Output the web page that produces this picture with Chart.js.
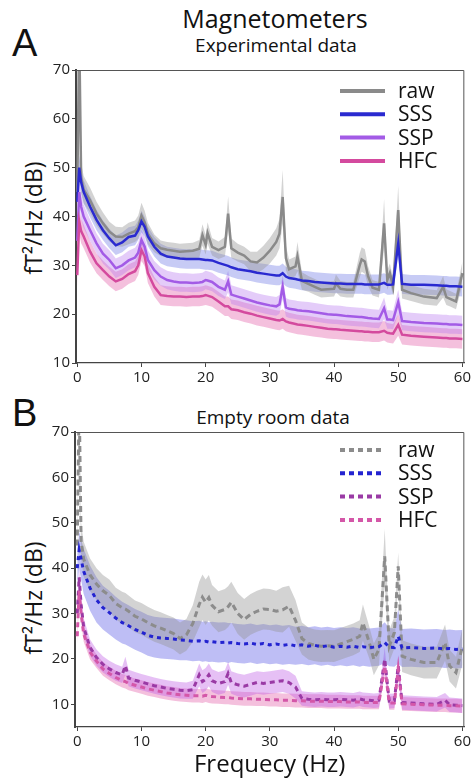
<!DOCTYPE html>
<html>
<head>
<meta charset="utf-8">
<script src="https://cdn.jsdelivr.net/npm/chart.js@4.4.1/dist/chart.umd.min.js"></script>
<style>
  body { margin: 0; background: #fff; width: 473px; height: 780px; overflow: hidden; position: relative; font-family: "Open Sans", sans-serif; color: #111; }
  .t { position: absolute; white-space: nowrap; line-height: 1; transform: translate(-50%, -50%); }
  .yt { position: absolute; white-space: nowrap; line-height: 1; font-size: 23px; transform: translate(-50%, -50%) rotate(-90deg); }
  .lab { position: absolute; font-family: "Liberation Sans", Arial, sans-serif; line-height: 1; }
  canvas { position: absolute; left: 0; }
</style>
</head>
<body>
<div class="lab" style="left:12px;top:24px;font-size:38px">A</div>
<div class="t" style="left:275px;top:18px;font-size:25px">Magnetometers</div>
<div class="t" style="left:276px;top:45px;font-size:19px">Experimental data</div>
<div class="yt" style="left:33px;top:218px">fT²/Hz (dB)</div>
<canvas id="chartA" width="473" height="332" style="top:58px"></canvas>

<div class="lab" style="left:12px;top:394px;font-size:38px">B</div>
<div class="t" style="left:273px;top:417px;font-size:19px">Empty room data</div>
<div class="yt" style="left:33px;top:598px">fT²/Hz (dB)</div>
<canvas id="chartB" width="473" height="360" style="top:420px"></canvas>

<script>
const seriesNames = ['raw', 'SSS', 'SSP', 'HFC'];
const xTicks = [0, 10, 20, 30, 40, 50, 60];
const yTicks = [10, 20, 30, 40, 50, 60, 70];

// panel A - experimental data (mean and sd, dB)
const freqA = [0, 0.3, 0.6, 1, 2, 3, 4, 5, 6, 7,
  8, 9, 9.5, 10, 10.5, 11, 12, 13, 14, 15,
  16, 17, 18, 19, 19.5, 20, 20.3, 21, 22, 23,
  23.5, 24, 25, 26, 27, 28, 29, 30, 31, 31.5,
  32, 32.5, 33, 34, 34.3, 35, 36, 37, 38, 39,
  40, 40.3, 41, 42, 43, 44, 44.3, 44.8, 45.3, 46,
  47, 47.8, 48.3, 48.7, 49.2, 50, 50.6, 52, 54, 56,
  57, 57.5, 58, 59, 60];
const rawMeanA = [45, 78, 48, 45.5, 43.3, 40.6, 38.6, 36.9, 35.9, 35.8,
  36.5, 37, 37.8, 40.2, 38.8, 36.5, 34.5, 33.5, 33.2, 33,
  32.8, 32.9, 33, 33.4, 36.2, 34.2, 36.6, 33.8, 33.1, 33.8,
  40.6, 33.5, 32.6, 32, 30.8, 30.6, 31.6, 33, 34.8, 36.5,
  44, 31.5, 29.2, 29.8, 31.8, 26.8, 26.2, 25.6, 25, 25.1,
  25.2, 26.3, 25.2, 25, 25, 30, 31.2, 30.8, 27.8, 25.4,
  25, 38.6, 27, 28.4, 25.6, 41.3, 25, 24.3, 23.6, 23.3,
  25.6, 23.5, 23.2, 22.6, 28.4];
const rawSdA = [3, 3, 3, 2.8, 2.6, 2.4, 2.2, 2, 2, 2,
  2.2, 2.2, 2.4, 2.6, 2.4, 2.2, 1.8, 1.6, 1.6, 1.6,
  1.6, 1.6, 1.6, 1.8, 2.2, 2, 2.2, 1.8, 1.8, 2,
  3.5, 2, 1.8, 1.8, 2, 2.2, 2.4, 2.6, 2.8, 3,
  5.5, 2.5, 2, 2, 3, 1.8, 1.6, 1.6, 1.6, 1.6,
  1.6, 1.8, 1.6, 1.6, 1.6, 2.5, 2.5, 2.5, 2, 1.6,
  1.6, 5, 2, 2, 1.8, 5, 1.8, 1.6, 1.6, 1.6,
  2.2, 1.6, 1.6, 1.6, 2.4];
const sssMeanA = [43, 50, 47, 45, 42, 39.3, 37.2, 35.5, 34.1, 34.7,
  35.8, 36.1, 37.2, 39, 37.9, 35.9, 33.8, 32.4, 31.8, 31.6,
  31.4, 31.3, 31.3, 31.3, 31.2, 31.1, 31.1, 31, 30.5, 30.1,
  29.9, 29.6, 29.2, 29, 28.8, 28.5, 28.3, 28.1, 27.9, 27.9,
  28.4, 27.7, 27.4, 27.2, 27.1, 26.9, 26.8, 26.6, 26.5, 26.4,
  26.3, 26.3, 26.3, 26.2, 26.2, 26.2, 26.2, 26.1, 26.1, 26.1,
  26.1, 26.4, 26, 26, 26.1, 34.5, 26.2, 26, 26, 25.9,
  25.8, 25.8, 25.7, 25.7, 25.6];
const sssSdA = [2.5, 2.5, 2.5, 2.4, 2.2, 2.1, 2, 2, 2, 2,
  2, 2, 2, 2.2, 2, 2, 2, 2, 2, 2,
  2, 2, 2, 2, 2, 2, 2, 2, 2, 2,
  2, 2, 2, 2, 2, 2, 2, 2, 2, 2,
  2, 2, 2, 2, 2, 2, 2, 2, 2, 2,
  2, 2, 2, 2, 2, 2, 2, 2, 2, 2,
  2, 2, 2, 2, 2, 2.5, 2, 2, 2, 2,
  2, 2, 2, 2, 2];
const sspMeanA = [35, 45, 42, 40, 37.2, 34.5, 32.4, 31.1, 29.4, 30,
  31, 31.6, 32.6, 35.2, 33.8, 31.1, 29, 27.7, 27, 26.7,
  26.5, 26.5, 26.4, 26.5, 26.6, 27, 26.9, 26.6, 25.6, 25,
  26.7, 24, 23.6, 23.2, 22.8, 22.4, 22.1, 21.8, 21.6, 22,
  25.6, 21.4, 21.1, 20.9, 20.8, 20.7, 20.6, 20.4, 20.2, 20,
  19.9, 19.9, 19.8, 19.6, 19.5, 19.4, 19.4, 19.3, 19.2, 19.1,
  19, 21.2, 18.9, 18.9, 18.8, 22.5, 18.6, 18.4, 18.2, 18.1,
  18, 18, 17.9, 17.9, 17.8];
const sspSdA = [2.5, 2.5, 2.5, 2.4, 2.2, 2, 2, 2, 2, 2,
  2, 2, 2, 2.2, 2, 2, 1.9, 1.9, 1.9, 1.9,
  1.9, 1.9, 1.9, 1.9, 1.9, 1.9, 1.9, 1.9, 1.9, 1.9,
  2.2, 1.9, 1.9, 1.9, 1.9, 1.9, 1.9, 1.9, 1.9, 1.9,
  2.5, 1.9, 1.9, 1.9, 1.9, 1.9, 1.9, 1.9, 1.9, 1.9,
  1.9, 1.9, 1.9, 1.9, 1.9, 1.9, 1.9, 1.9, 1.9, 1.9,
  1.9, 2.2, 1.9, 1.9, 1.9, 2.5, 1.9, 1.9, 1.9, 1.9,
  1.9, 1.9, 1.9, 1.9, 1.9];
const hfcMeanA = [28, 39, 37, 35.9, 32.8, 30.4, 29, 27.7, 26.7, 27.2,
  28.2, 28.8, 30, 33.1, 31.8, 28.4, 25.6, 23.9, 23.7, 23.6,
  23.6, 23.5, 23.6, 23.6, 23.7, 23.9, 23.8, 23.5, 22.6, 21.6,
  21.6, 21, 20.8, 20.4, 20.1, 19.7, 19.4, 19.1, 18.8, 18.7,
  19, 18.5, 18.3, 18, 17.9, 17.8, 17.6, 17.4, 17.2, 17,
  16.9, 16.9, 16.8, 16.7, 16.6, 16.5, 16.5, 16.4, 16.4, 16.3,
  16.3, 16.6, 16.2, 16.1, 16, 17.8, 15.8, 15.6, 15.4, 15.2,
  15.1, 15.1, 15, 15, 14.9];
const hfcSdA = [2.5, 2.5, 2.5, 2.4, 2.2, 2, 2, 2, 2, 2,
  2, 2, 2, 2.2, 2, 2, 2, 2, 2, 2,
  2, 2, 2, 2, 2, 2, 2, 2, 2, 2,
  2, 2, 2, 2, 2, 2, 2, 2, 2, 2,
  2, 2, 2, 2, 2, 2, 2, 2, 2, 2,
  2, 2, 2, 2, 2, 2, 2, 2, 2, 2,
  2, 2, 2, 2, 2, 2.2, 2, 2, 2, 2,
  2, 2, 2, 2, 2];

// panel B - empty room data
const freqB = [0, 0.3, 0.6, 1, 2, 3, 4, 5, 6, 7,
  7.5, 8, 9, 10, 11, 12, 13, 14, 15, 16,
  17, 18, 19, 19.5, 20, 20.5, 21, 22, 23, 23.5,
  24, 25, 26, 27, 28, 29, 30, 31, 32, 33,
  34, 35, 36, 37, 38, 39, 40, 41, 42, 43,
  44, 44.5, 45.5, 46.2, 47, 47.9, 48.6, 49.4, 50, 50.6,
  52, 54, 56, 57.3, 58, 59, 60];
const rawMeanB = [45, 78, 46, 42, 38.5, 36.5, 35, 34, 32.2, 31.3,
  31, 30.5, 29.4, 28.8, 28, 27.3, 26.8, 26.2, 25.6, 24.5,
  25.3, 27.8, 32, 33.6, 32.5, 33.5, 31.8, 30.4, 30.9, 31.5,
  32.5, 30, 28.7, 29.8, 30.5, 31, 30.9, 30.5, 30.8, 31.6,
  28.5, 24.5, 23.4, 23, 22.8, 22.9, 22.8, 23.3, 23.8, 24.3,
  25, 28, 23.6, 19.9, 22.1, 42.6, 22.8, 25.8, 40.4, 20.6,
  19.9, 19.2, 19.2, 23.6, 18.5, 17, 22.8];
const rawSdB = [4, 4, 4, 3.8, 3.6, 3.5, 3.5, 3.5, 3.5, 3.5,
  3.5, 3.5, 3.5, 3.5, 3.5, 3.5, 3.5, 3.5, 3.5, 3.5,
  3.5, 4, 5, 5, 5, 5, 4.5, 4.5, 4.5, 4.5,
  4.5, 4.5, 4.5, 4.5, 4.5, 4.5, 4.5, 4.5, 5, 4.5,
  4.5, 3.5, 3.5, 3.5, 3.5, 3.5, 3.5, 3.5, 3.5, 3.5,
  3.5, 4, 3.5, 3.5, 3.5, 6, 3.5, 3.5, 3, 3.5,
  3.5, 3.5, 3.5, 4, 3.5, 3.5, 4];
const sssMeanB = [40, 44, 42, 39.3, 35.6, 33, 31.3, 30.2, 29, 28,
  27.7, 27.3, 26.5, 25.9, 25.2, 24.8, 24.6, 24.5, 24.4, 24.2,
  24.1, 23.9, 24, 23.8, 23.9, 23.7, 23.8, 23.6, 23.7, 23.5,
  23.6, 23.4, 23.3, 23.5, 23.2, 23.4, 23.1, 23.3, 23, 23.2,
  22.9, 23.1, 22.8, 23, 22.7, 22.9, 22.6, 22.8, 22.6, 22.8,
  22.5, 22.7, 22.5, 22.6, 22.7, 23.6, 22.6, 22.5, 25, 22.4,
  22.5, 22.3, 22.4, 22.2, 22.3, 22.1, 22.2];
const sssSdB = [4, 4, 4.5, 5, 5, 5, 4.8, 4.8, 4.7, 4.6,
  4.5, 4.5, 4.5, 4.5, 4.5, 4.5, 4.5, 4.5, 4.5, 4.5,
  4.4, 4.4, 4.4, 4.4, 4.4, 4.4, 4.4, 4.4, 4.4, 4.4,
  4.3, 4.3, 4.3, 4.3, 4.3, 4.3, 4.3, 4.3, 4.3, 4.3,
  4.2, 4.2, 4.2, 4.2, 4.2, 4.2, 4.2, 4.2, 4.2, 4.2,
  4.2, 4.2, 4.2, 4.2, 4.2, 4.5, 4.2, 4.2, 6, 4.2,
  4.2, 4.2, 4.2, 4.2, 4.2, 4.2, 4.2];
const sspMeanB = [30, 38, 32, 27, 22.5, 20.3, 18.8, 17.8, 17, 16.5,
  18.5, 15.8, 15.3, 14.9, 14.5, 14.1, 13.8, 13.5, 13.3, 13.1,
  13, 13.2, 16.5, 15, 15.5, 16.5, 15.2, 14.6, 15, 16.8,
  14.8, 14.3, 14, 14.4, 14.8, 14.6, 14.8, 15, 15.2, 14.8,
  13.8, 11.3, 11.1, 11, 11.1, 11, 11, 11.1, 11, 10.9,
  11.2, 11, 10.9, 10.8, 10.9, 20, 10.7, 10.8, 18.5, 10.4,
  10.3, 10.1, 10, 10.9, 9.9, 9.8, 9.7];
const sspSdB = [2, 2, 2, 2, 1.8, 1.8, 1.8, 1.8, 1.8, 1.8,
  2, 1.8, 1.8, 1.8, 1.8, 1.8, 1.8, 1.8, 1.8, 1.8,
  1.8, 2, 2.5, 2.5, 2.5, 2.5, 2.5, 2.5, 2.5, 2.5,
  2.5, 2.5, 2.5, 2.5, 2.5, 2.5, 2.5, 2.5, 2.5, 2.5,
  2.5, 1.6, 1.6, 1.6, 1.6, 1.6, 1.6, 1.6, 1.6, 1.6,
  1.6, 1.6, 1.6, 1.6, 1.6, 2.5, 1.6, 1.6, 2.5, 1.6,
  1.6, 1.6, 1.6, 1.6, 1.6, 1.6, 1.6];
const hfcMeanB = [25, 35, 30, 25.5, 21.5, 19.5, 17.8, 16.8, 15.9, 15.2,
  15, 14.6, 14.2, 13.8, 13.4, 13.1, 12.8, 12.5, 12.3, 12.1,
  12, 11.9, 11.9, 11.8, 12, 11.8, 11.7, 11.6, 11.5, 11.5,
  11.4, 11.3, 11.2, 11.2, 11.1, 11.1, 11, 11, 10.9, 10.9,
  10.8, 10.8, 10.7, 10.7, 10.7, 10.6, 10.6, 10.6, 10.5, 10.5,
  10.5, 10.4, 10.4, 10.4, 10.4, 18.4, 10.3, 10.3, 17.7, 10.1,
  10, 9.9, 9.8, 9.8, 9.7, 9.7, 9.6];
const hfcSdB = [1.8, 1.8, 1.8, 1.7, 1.6, 1.5, 1.5, 1.5, 1.5, 1.5,
  1.5, 1.5, 1.5, 1.5, 1.5, 1.5, 1.5, 1.5, 1.5, 1.5,
  1.5, 1.5, 1.5, 1.5, 1.5, 1.5, 1.5, 1.5, 1.5, 1.5,
  1.5, 1.5, 1.5, 1.5, 1.5, 1.5, 1.5, 1.5, 1.5, 1.5,
  1.5, 1.5, 1.5, 1.5, 1.5, 1.5, 1.5, 1.5, 1.5, 1.5,
  1.5, 1.5, 1.5, 1.5, 1.5, 2, 1.5, 1.5, 2, 1.5,
  1.5, 1.5, 1.5, 1.5, 1.5, 1.5, 1.5];

function pts(freq, vals) {
  return freq.map((f, i) => ({ x: f, y: vals[i] }));
}
function band(freq, mean, sd, sign) {
  return freq.map((f, i) => ({ x: f, y: mean[i] + sign * sd[i] }));
}

function buildDatasets(freq, series) {
  const lines = [];
  const bands = [];
  // last series on top, like the plotting order in the figure
  series.slice().reverse().forEach(s => {
    lines.push({
      label: s.name, data: pts(freq, s.mean), borderColor: s.color,
      borderWidth: s.width, borderDash: s.dash, pointRadius: 0,
      fill: false, tension: 0, order: 0, clip: 0
    });
  });
  series.forEach(s => {
    bands.push({
      label: s.name + ' +sd', data: band(freq, s.mean, s.sd, 1),
      borderWidth: 0, borderColor: 'transparent', pointRadius: 0,
      backgroundColor: s.band, fill: '+1', order: 1, clip: 0
    });
    bands.push({
      label: s.name + ' -sd', data: band(freq, s.mean, s.sd, -1),
      borderWidth: 0, borderColor: 'transparent', pointRadius: 0,
      fill: false, order: 1, clip: 0
    });
  });
  return lines.concat(bands);
}

// top and right spines
const framePlugin = {
  id: 'frame',
  afterDatasetsDraw(chart) {
    const { ctx, chartArea: a } = chart;
    ctx.save();
    ctx.strokeStyle = '#555';
    ctx.lineWidth = 1;
    ctx.beginPath();
    ctx.moveTo(a.left, a.top + 0.5);
    ctx.lineTo(a.right - 0.5, a.top + 0.5);
    ctx.lineTo(a.right - 0.5, a.bottom);
    ctx.stroke();
    ctx.restore();
  }
};

// legend in the top right corner of the plot
const cornerLegend = {
  id: 'cornerLegend',
  afterDraw(chart, args, opts) {
    const ctx = chart.ctx;
    ctx.save();
    ctx.font = '21px "Open Sans"';
    ctx.textBaseline = 'middle';
    opts.items.forEach((it, i) => {
      const y = opts.y + i * opts.gap;
      ctx.strokeStyle = it.color;
      ctx.lineWidth = 4;
      ctx.setLineDash(it.dash || []);
      ctx.beginPath();
      ctx.moveTo(opts.x, y);
      ctx.lineTo(opts.x + 45, y);
      ctx.stroke();
      ctx.setLineDash([]);
      ctx.fillStyle = '#111';
      ctx.fillText(it.name, opts.x + 58, y + 1);
    });
    ctx.restore();
  }
};

const tickFont = { family: 'Open Sans', size: 15 };

function makeChart(id, freq, series, cfg) {
  return new Chart(document.getElementById(id), {
    type: 'line',
    data: { datasets: buildDatasets(freq, series) },
    options: {
      responsive: false,
      animation: false,
      devicePixelRatio: 1,
      layout: { padding: { top: cfg.padTop, right: 4, left: 0, bottom: 0 } },
      plugins: {
        legend: { display: false },
        tooltip: { enabled: false },
        cornerLegend: {
          x: 340, y: cfg.legendY, gap: 23.3,
          items: series.map(s => ({ name: s.name, color: s.color, dash: s.legendDash }))
        }
      },
      scales: {
        x: {
          type: 'linear', min: cfg.xMin, max: 60.3,
          afterBuildTicks: s => { s.ticks = xTicks.map(v => ({ value: v })); },
          afterFit: s => { s.height = cfg.xHeight; },
          grid: { drawOnChartArea: false, drawTicks: true, tickLength: 4, color: '#444' },
          border: { color: '#444', width: 1.2 },
          ticks: { font: tickFont, color: '#222', padding: 2, maxRotation: 0, autoSkip: false },
          title: {
            display: !!cfg.xTitle, text: cfg.xTitle || '',
            font: { family: 'Open Sans', size: 24 }, color: '#111',
            padding: { top: 0, bottom: 0 }
          }
        },
        y: {
          min: cfg.yMin, max: 70,
          afterBuildTicks: s => { s.ticks = yTicks.map(v => ({ value: v })); },
          afterFit: s => { s.width = cfg.yWidth; },
          grid: { drawOnChartArea: false, drawTicks: true, tickLength: 4, color: '#444' },
          border: { color: '#444', width: 2 },
          ticks: { font: tickFont, color: '#222', padding: 2, autoSkip: false }
        }
      }
    },
    plugins: [framePlugin, cornerLegend]
  });
}

const seriesA = [
  { name: seriesNames[0], mean: rawMeanA, sd: rawSdA, color: '#8a8a8a', band: 'rgba(150,150,150,0.42)', width: 2.5 },
  { name: seriesNames[1], mean: sssMeanA, sd: sssSdA, color: '#2a2ad0', band: 'rgba(95,105,225,0.35)', width: 2.5 },
  { name: seriesNames[2], mean: sspMeanA, sd: sspSdA, color: '#a35be6', band: 'rgba(185,120,240,0.38)', width: 2.5 },
  { name: seriesNames[3], mean: hfcMeanA, sd: hfcSdA, color: '#d44a9e', band: 'rgba(225,90,165,0.38)', width: 2.5 }
];
const seriesB = [
  { name: seriesNames[0], mean: rawMeanB, sd: rawSdB, color: '#8c8c8c', band: 'rgba(150,150,150,0.42)', width: 3, dash: [6, 4], legendDash: [5, 4] },
  { name: seriesNames[1], mean: sssMeanB, sd: sssSdB, color: '#2323d0', band: 'rgba(100,100,230,0.42)', width: 3, dash: [4, 4], legendDash: [5, 4] },
  { name: seriesNames[2], mean: sspMeanB, sd: sspSdB, color: '#9a3aa5', band: 'rgba(190,90,230,0.38)', width: 3, dash: [5, 4], legendDash: [5, 4] },
  { name: seriesNames[3], mean: hfcMeanB, sd: hfcSdB, color: '#d457a8', band: 'rgba(225,90,165,0.38)', width: 3, dash: [5, 4], legendDash: [5, 4] }
];

makeChart('chartA', freqA, seriesA, { padTop: 12, xHeight: 27, yWidth: 76, yMin: 10, xMin: -0.2, legendY: 33 });
makeChart('chartB', freqB, seriesB, { padTop: 12, xHeight: 53, yWidth: 75, yMin: 5, xMin: -0.35, legendY: 30, xTitle: 'Frequecy (Hz)' });
</script>
</body>
</html>
